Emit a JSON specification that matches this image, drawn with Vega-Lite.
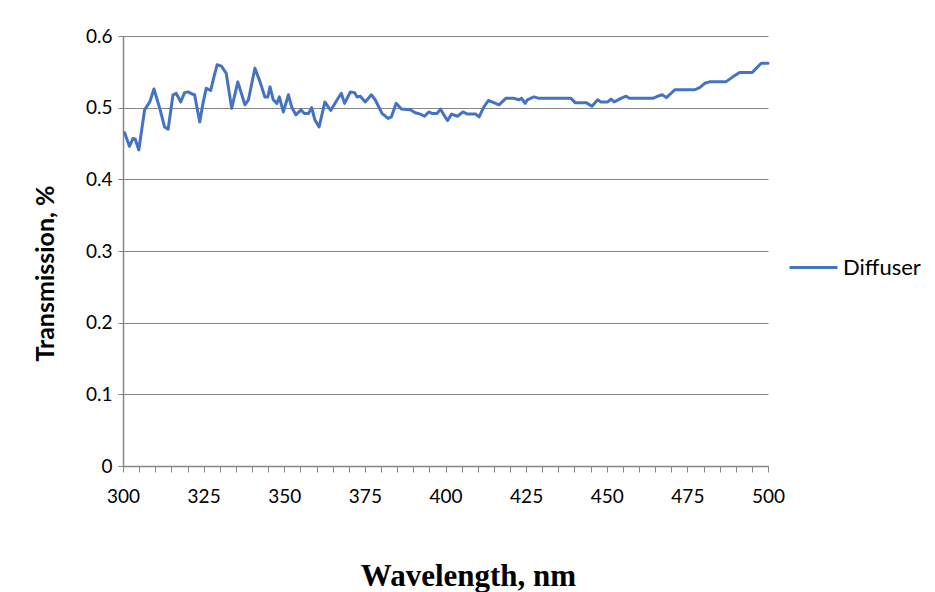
{
  "$schema": "https://vega.github.io/schema/vega-lite/v6.json",
  "width": 645,
  "height": 430,
  "autosize": {"type": "none"},
  "padding": {"left": 123, "top": 36, "right": 167, "bottom": 126},
  "background": "white",
  "config": {"view": {"stroke": null}, "font": "Lato"},
  "data": {
    "values": [
      {"w": 300.5, "t": 0.465, "series": "Diffuser"},
      {"w": 302, "t": 0.446, "series": "Diffuser"},
      {"w": 303.1, "t": 0.457, "series": "Diffuser"},
      {"w": 303.8, "t": 0.456, "series": "Diffuser"},
      {"w": 304.9, "t": 0.441, "series": "Diffuser"},
      {"w": 306.7, "t": 0.497, "series": "Diffuser"},
      {"w": 308.3, "t": 0.508, "series": "Diffuser"},
      {"w": 309.6, "t": 0.526, "series": "Diffuser"},
      {"w": 311.4, "t": 0.499, "series": "Diffuser"},
      {"w": 312.9, "t": 0.473, "series": "Diffuser"},
      {"w": 314, "t": 0.470, "series": "Diffuser"},
      {"w": 315.5, "t": 0.518, "series": "Diffuser"},
      {"w": 316.5, "t": 0.520, "series": "Diffuser"},
      {"w": 317.9, "t": 0.508, "series": "Diffuser"},
      {"w": 319.1, "t": 0.521, "series": "Diffuser"},
      {"w": 320.2, "t": 0.522, "series": "Diffuser"},
      {"w": 321.4, "t": 0.519, "series": "Diffuser"},
      {"w": 322.2, "t": 0.518, "series": "Diffuser"},
      {"w": 323.8, "t": 0.480, "series": "Diffuser"},
      {"w": 324.8, "t": 0.506, "series": "Diffuser"},
      {"w": 325.8, "t": 0.527, "series": "Diffuser"},
      {"w": 327.2, "t": 0.524, "series": "Diffuser"},
      {"w": 328.2, "t": 0.543, "series": "Diffuser"},
      {"w": 329.2, "t": 0.560, "series": "Diffuser"},
      {"w": 330.5, "t": 0.558, "series": "Diffuser"},
      {"w": 332, "t": 0.548, "series": "Diffuser"},
      {"w": 333.7, "t": 0.499, "series": "Diffuser"},
      {"w": 335.6, "t": 0.536, "series": "Diffuser"},
      {"w": 337.8, "t": 0.504, "series": "Diffuser"},
      {"w": 338.9, "t": 0.511, "series": "Diffuser"},
      {"w": 340.9, "t": 0.555, "series": "Diffuser"},
      {"w": 342.5, "t": 0.536, "series": "Diffuser"},
      {"w": 344, "t": 0.515, "series": "Diffuser"},
      {"w": 344.9, "t": 0.515, "series": "Diffuser"},
      {"w": 345.6, "t": 0.529, "series": "Diffuser"},
      {"w": 346.6, "t": 0.511, "series": "Diffuser"},
      {"w": 347.7, "t": 0.506, "series": "Diffuser"},
      {"w": 348.5, "t": 0.515, "series": "Diffuser"},
      {"w": 349.7, "t": 0.494, "series": "Diffuser"},
      {"w": 351.3, "t": 0.518, "series": "Diffuser"},
      {"w": 352.3, "t": 0.501, "series": "Diffuser"},
      {"w": 353.6, "t": 0.490, "series": "Diffuser"},
      {"w": 355.2, "t": 0.497, "series": "Diffuser"},
      {"w": 356.2, "t": 0.492, "series": "Diffuser"},
      {"w": 357.5, "t": 0.492, "series": "Diffuser"},
      {"w": 358.5, "t": 0.500, "series": "Diffuser"},
      {"w": 359.5, "t": 0.483, "series": "Diffuser"},
      {"w": 360.8, "t": 0.473, "series": "Diffuser"},
      {"w": 362.6, "t": 0.508, "series": "Diffuser"},
      {"w": 364.4, "t": 0.496, "series": "Diffuser"},
      {"w": 366.4, "t": 0.511, "series": "Diffuser"},
      {"w": 367.7, "t": 0.520, "series": "Diffuser"},
      {"w": 368.7, "t": 0.506, "series": "Diffuser"},
      {"w": 370.5, "t": 0.522, "series": "Diffuser"},
      {"w": 371.8, "t": 0.521, "series": "Diffuser"},
      {"w": 372.6, "t": 0.515, "series": "Diffuser"},
      {"w": 373.6, "t": 0.516, "series": "Diffuser"},
      {"w": 375.1, "t": 0.508, "series": "Diffuser"},
      {"w": 377, "t": 0.518, "series": "Diffuser"},
      {"w": 378.2, "t": 0.511, "series": "Diffuser"},
      {"w": 380.3, "t": 0.492, "series": "Diffuser"},
      {"w": 382.2, "t": 0.485, "series": "Diffuser"},
      {"w": 383.2, "t": 0.487, "series": "Diffuser"},
      {"w": 384.7, "t": 0.506, "series": "Diffuser"},
      {"w": 386.3, "t": 0.498, "series": "Diffuser"},
      {"w": 389.1, "t": 0.497, "series": "Diffuser"},
      {"w": 390.6, "t": 0.493, "series": "Diffuser"},
      {"w": 392.2, "t": 0.491, "series": "Diffuser"},
      {"w": 393.5, "t": 0.488, "series": "Diffuser"},
      {"w": 394.8, "t": 0.494, "series": "Diffuser"},
      {"w": 395.8, "t": 0.492, "series": "Diffuser"},
      {"w": 397.4, "t": 0.492, "series": "Diffuser"},
      {"w": 398.5, "t": 0.498, "series": "Diffuser"},
      {"w": 399.2, "t": 0.492, "series": "Diffuser"},
      {"w": 400.6, "t": 0.482, "series": "Diffuser"},
      {"w": 401.9, "t": 0.491, "series": "Diffuser"},
      {"w": 403.7, "t": 0.488, "series": "Diffuser"},
      {"w": 405.4, "t": 0.494, "series": "Diffuser"},
      {"w": 406.8, "t": 0.491, "series": "Diffuser"},
      {"w": 409.4, "t": 0.491, "series": "Diffuser"},
      {"w": 410.4, "t": 0.487, "series": "Diffuser"},
      {"w": 411.9, "t": 0.501, "series": "Diffuser"},
      {"w": 413.3, "t": 0.510, "series": "Diffuser"},
      {"w": 415, "t": 0.507, "series": "Diffuser"},
      {"w": 416.6, "t": 0.504, "series": "Diffuser"},
      {"w": 418.7, "t": 0.513, "series": "Diffuser"},
      {"w": 421.2, "t": 0.513, "series": "Diffuser"},
      {"w": 422.8, "t": 0.511, "series": "Diffuser"},
      {"w": 423.6, "t": 0.513, "series": "Diffuser"},
      {"w": 424.7, "t": 0.506, "series": "Diffuser"},
      {"w": 425.4, "t": 0.511, "series": "Diffuser"},
      {"w": 427.4, "t": 0.515, "series": "Diffuser"},
      {"w": 429, "t": 0.513, "series": "Diffuser"},
      {"w": 438.9, "t": 0.513, "series": "Diffuser"},
      {"w": 440.2, "t": 0.507, "series": "Diffuser"},
      {"w": 443.6, "t": 0.507, "series": "Diffuser"},
      {"w": 445.4, "t": 0.502, "series": "Diffuser"},
      {"w": 447.2, "t": 0.511, "series": "Diffuser"},
      {"w": 448.2, "t": 0.508, "series": "Diffuser"},
      {"w": 450.3, "t": 0.508, "series": "Diffuser"},
      {"w": 451.3, "t": 0.512, "series": "Diffuser"},
      {"w": 452.3, "t": 0.508, "series": "Diffuser"},
      {"w": 454.4, "t": 0.513, "series": "Diffuser"},
      {"w": 456, "t": 0.516, "series": "Diffuser"},
      {"w": 457, "t": 0.513, "series": "Diffuser"},
      {"w": 464.3, "t": 0.513, "series": "Diffuser"},
      {"w": 465.9, "t": 0.516, "series": "Diffuser"},
      {"w": 467.2, "t": 0.518, "series": "Diffuser"},
      {"w": 468.5, "t": 0.514, "series": "Diffuser"},
      {"w": 471.1, "t": 0.525, "series": "Diffuser"},
      {"w": 477.3, "t": 0.525, "series": "Diffuser"},
      {"w": 478.8, "t": 0.528, "series": "Diffuser"},
      {"w": 480.4, "t": 0.534, "series": "Diffuser"},
      {"w": 481.9, "t": 0.536, "series": "Diffuser"},
      {"w": 486.9, "t": 0.536, "series": "Diffuser"},
      {"w": 489.1, "t": 0.543, "series": "Diffuser"},
      {"w": 491.2, "t": 0.549, "series": "Diffuser"},
      {"w": 495.1, "t": 0.549, "series": "Diffuser"},
      {"w": 496.4, "t": 0.555, "series": "Diffuser"},
      {"w": 497.9, "t": 0.562, "series": "Diffuser"},
      {"w": 500, "t": 0.562, "series": "Diffuser"}
    ]
  },
  "mark": {"type": "line", "strokeWidth": 3, "strokeJoin": "round", "strokeCap": "round"},
  "encoding": {
    "x": {
      "field": "w",
      "type": "quantitative",
      "scale": {"domain": [300, 500], "nice": false, "zero": false},
      "axis": {
        "values": [300, 305, 310, 315, 320, 325, 330, 335, 340, 345, 350, 355, 360, 365, 370, 375, 380, 385, 390, 395, 400, 405, 410, 415, 420, 425, 430, 435, 440, 445, 450, 455, 460, 465, 470, 475, 480, 485, 490, 495, 500],
        "labelExpr": "datum.value % 25 === 0 ? datum.label : ''",
        "labelOverlap": false,
        "labelFlush": false,
        "grid": false,
        "domainColor": "#868686",
        "domainWidth": 1.5,
        "tickColor": "#868686",
        "tickSize": 6,
        "labelFont": "Lato",
        "labelFontSize": 19,
        "labelColor": "#000000",
        "labelPadding": 15,
        "title": "Wavelength, nm",
        "titleFont": "Liberation Serif",
        "titleFontSize": 31,
        "titleFontWeight": "bold",
        "titleColor": "#000000",
        "titleBaseline": "alphabetic",
        "titleAlign": "center",
        "titleX": 345,
        "titleY": 119
      }
    },
    "y": {
      "field": "t",
      "type": "quantitative",
      "scale": {"domain": [0, 0.6], "nice": false},
      "axis": {
        "values": [0, 0.1, 0.2, 0.3, 0.4, 0.5, 0.6],
        "format": ".1~f",
        "grid": true,
        "gridColor": "#868686",
        "gridWidth": 1,
        "domainColor": "#868686",
        "domainWidth": 1.5,
        "tickColor": "#868686",
        "tickSize": 5,
        "labelFont": "Lato",
        "labelFontSize": 19,
        "labelColor": "#000000",
        "labelPadding": 6,
        "title": "Transmission, %",
        "titleFont": "Lato",
        "titleFontSize": 25,
        "titleFontWeight": "bold",
        "titleColor": "#000000",
        "titleAngle": -90,
        "titleBaseline": "middle",
        "titleAlign": "center",
        "titleX": -78,
        "titleY": 237
      }
    },
    "color": {
      "field": "series",
      "type": "nominal",
      "scale": {"range": ["#4472C4"]},
      "legend": {
        "title": null,
        "orient": "none",
        "legendX": 665,
        "legendY": 206,
        "padding": 0,
        "symbolType": "stroke",
        "symbolSize": 2304,
        "symbolStrokeWidth": 3,
        "labelFont": "Lato",
        "labelFontSize": 22,
        "labelColor": "#000000",
        "labelOffset": 4
      }
    }
  }
}
